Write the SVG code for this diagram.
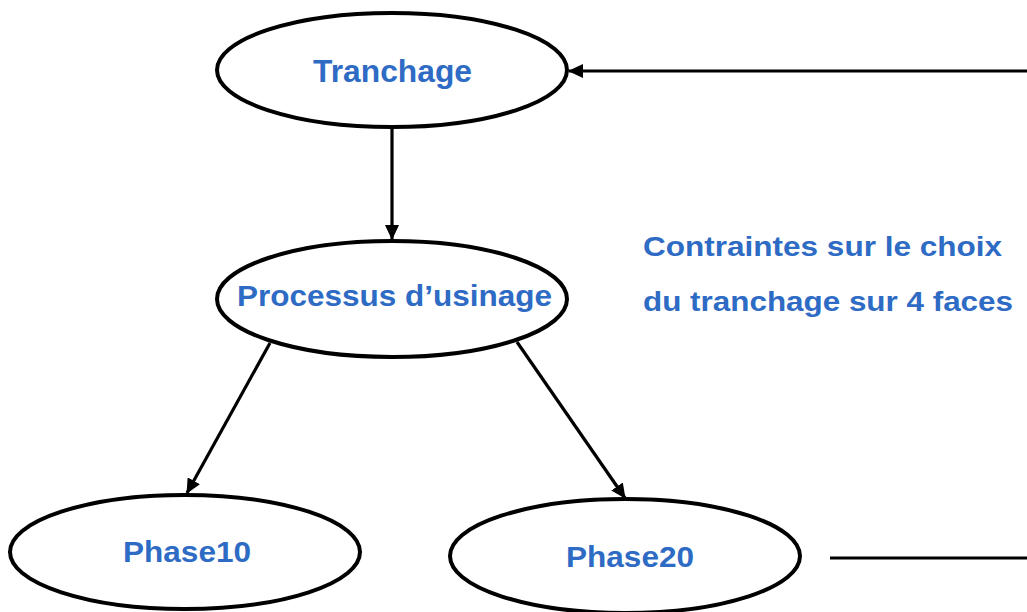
<svg xmlns="http://www.w3.org/2000/svg" width="1027" height="612" viewBox="0 0 1027 612">
<style>
.node{fill:#fff;stroke:#000;stroke-width:4}
.lbl{font-family:"Liberation Sans",Arial,sans-serif;font-weight:bold;fill:#2E6BC4;text-anchor:start}
.conn{stroke:#000;stroke-width:3.2;fill:none}
</style>
<defs>
<marker id="ah" markerWidth="15" markerHeight="14" refX="14" refY="7" orient="auto" markerUnits="userSpaceOnUse">
<path d="M0,0 L15,7 L0,14 Z" fill="#000"/>
</marker>
</defs>
<rect width="1027" height="612" fill="#fff"/>
<g id="connectors">
<line class="conn" x1="1027" y1="71" x2="569" y2="71" marker-end="url(#ah)"/>
<line class="conn" x1="392" y1="129" x2="392" y2="239" marker-end="url(#ah)"/>
<line class="conn" x1="270" y1="343" x2="187" y2="493" marker-end="url(#ah)"/>
<line class="conn" x1="517" y1="342" x2="625" y2="498" marker-end="url(#ah)"/>
<line class="conn" x1="830" y1="558" x2="1027" y2="558"/>
</g>
<g id="tranchage">
<ellipse class="node" cx="392" cy="70" rx="175" ry="57"/>
<text class="lbl" x="313" y="82" font-size="32" textLength="159" lengthAdjust="spacingAndGlyphs">Tranchage</text>
</g>
<g id="processus">
<ellipse class="node" cx="392" cy="299" rx="175" ry="58"/>
<text class="lbl" x="237" y="306" font-size="29" textLength="315" lengthAdjust="spacingAndGlyphs">Processus d’usinage</text>
</g>
<g id="phase10">
<ellipse class="node" cx="185" cy="552" rx="175" ry="57"/>
<text class="lbl" x="123" y="562" font-size="30" textLength="128" lengthAdjust="spacingAndGlyphs">Phase10</text>
</g>
<g id="phase20">
<ellipse class="node" cx="625" cy="556" rx="175" ry="57"/>
<text class="lbl" x="566" y="567" font-size="30" textLength="128" lengthAdjust="spacingAndGlyphs">Phase20</text>
</g>
<g id="contraintes">
<text class="lbl" x="643" y="256" font-size="27" textLength="359" lengthAdjust="spacingAndGlyphs">Contraintes sur le choix</text>
<text class="lbl" x="643" y="311" font-size="27" textLength="370" lengthAdjust="spacingAndGlyphs">du tranchage sur 4 faces</text>
</g>
</svg>
